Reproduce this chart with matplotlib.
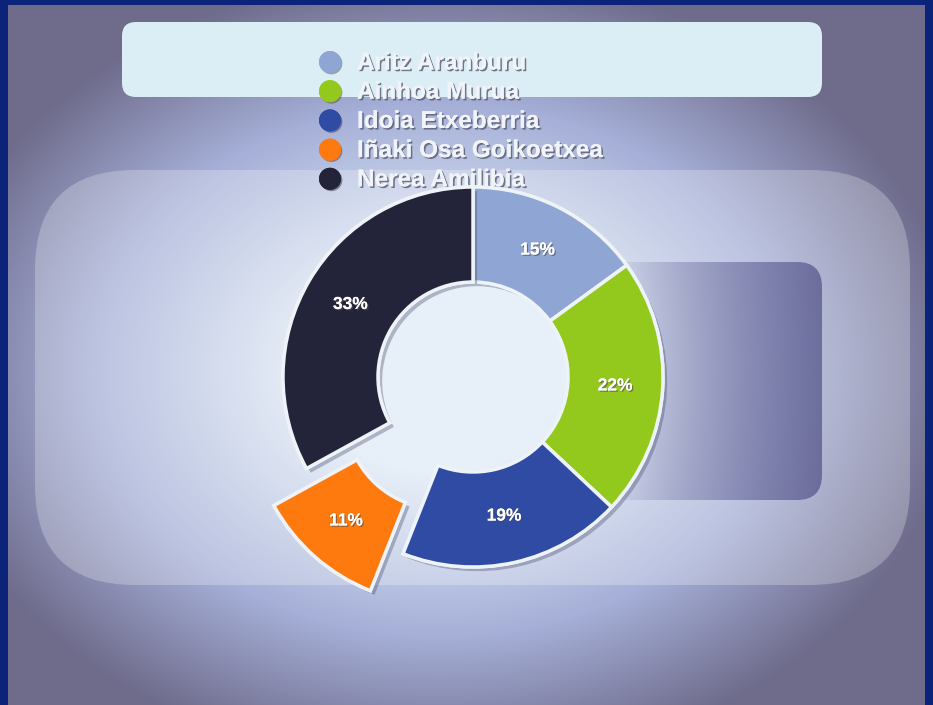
import numpy as np
import matplotlib
matplotlib.use("Agg")
import matplotlib.pyplot as plt
from matplotlib.patches import FancyBboxPatch, Circle
import matplotlib.patheffects as pe

W, H = 933, 705

names = ["Aritz Aranburu", "Ainhoa Murua", "Idoia Etxeberria",
         "Iñaki Osa Goikoetxea", "Nerea Amilibia"]
shares = [15, 22, 19, 11, 33]
colors = ["#8fa6d4", "#93c91c", "#2f4ba3", "#ff7a0e", "#23233a"]
explode = [0, 0, 0, 0.26, 0]

fig = plt.figure(figsize=(W / 100, H / 100), dpi=100)
fig.patch.set_facecolor("#0b2379")

# background in pixel coordinates
bg = fig.add_axes([8 / W, 0, (925 - 8) / W, 1 - 5 / H])
bg.set_xlim(8, 925)
bg.set_ylim(705, 5)
bg.axis("off")

xx, yy = np.meshgrid(np.arange(8, 925), np.arange(5, 705))
d = np.sqrt(((xx - 440) / 520.0) ** 2 + ((yy - 370) / 400.0) ** 2)
t = np.clip((d - 0.25) / 0.75, 0, 1)
stops = np.array([0.0, 0.55, 1.0])
cols = np.array([[0xe0, 0xeb, 0xf6], [0xa6, 0xb0, 0xd8], [0x6e, 0x6b, 0x8b]]) / 255
img = np.stack([np.interp(t, stops, cols[:, k]) for k in range(3)], axis=-1)
bg.imshow(img, extent=(8, 925, 705, 5), aspect="auto", zorder=0)

# big translucent rounded frame
big = FancyBboxPatch((35 + 100, 170 + 100), 875 - 200, 415 - 200,
                     boxstyle="round,pad=100", fc="white", ec="none",
                     alpha=0.25, zorder=1)
bg.add_patch(big)

# inner darker panel with horizontal gradient
inner = FancyBboxPatch((125 + 25, 262 + 25), 697 - 50, 238 - 50,
                       boxstyle="round,pad=25", fc="none", ec="none", zorder=2)
bg.add_patch(inner)
gx = np.linspace(0, 1, 300)
ga = np.clip((gx - 0.7) / 0.3, 0, 1) ** 0.8
grad = np.zeros((1, 300, 4))
grad[..., 0] = 0x5c / 255
grad[..., 1] = 0x5c / 255
grad[..., 2] = 0x90 / 255
grad[..., 3] = ga * 0.8
gim = bg.imshow(grad, extent=(125, 822, 500, 262), aspect="auto", zorder=2)
gim.set_clip_path(inner)

# legend panel
panel = FancyBboxPatch((122 + 14, 22 + 14), 700 - 28, 75 - 28,
                       boxstyle="round,pad=14", fc="#dceef5", ec="none", zorder=3)
bg.add_patch(panel)

shadow = [pe.withSimplePatchShadow(offset=(1.2, -1.2), shadow_rgbFace="#555a70",
                                   alpha=0.8), pe.Normal()]
for i, (n, c) in enumerate(zip(names, colors)):
    y = 62 + i * 29.2
    bg.add_patch(Circle((330, y), 11, fc=c, ec="none", zorder=5,
                        path_effects=[pe.withSimplePatchShadow(offset=(1, -1), alpha=0.4), pe.Normal()]))
    bg.text(357, y + 1, n, color="#f0f3f8", fontsize=17.5, fontweight="bold",
            family="Liberation Sans", va="center", ha="left", zorder=6,
            path_effects=shadow)

# donut
R = 190
ax = fig.add_axes([(473 - 1.3 * R) / W, 1 - (377 + 1.3 * R) / H, 2.6 * R / W, 2.6 * R / H])
ax.set_aspect("equal")
ax.axis("off")
wedges, texts, autotexts = ax.pie(
    shares, colors=colors, explode=explode, startangle=90, counterclock=False,
    radius=1.0, autopct="%d%%", pctdistance=0.75,
    wedgeprops=dict(width=0.5, edgecolor="#eef3f8", linewidth=2.5),
)
ax.set_xlim(-1.3, 1.3)
ax.set_ylim(-1.3, 1.3)
for w in wedges:
    w.set_path_effects([pe.withSimplePatchShadow(offset=(3, -3), shadow_rgbFace="#40466a", alpha=0.35),
                        pe.Normal()])
for a in autotexts:
    a.set_color("white")
    a.set_fontsize(12.5)
    a.set_fontweight("bold")
    a.set_family("Liberation Sans")
    a.set_path_effects([pe.withSimplePatchShadow(offset=(1, -1), alpha=0.6), pe.Normal()])

fig.savefig("out.png", dpi=100, facecolor=fig.get_facecolor())
